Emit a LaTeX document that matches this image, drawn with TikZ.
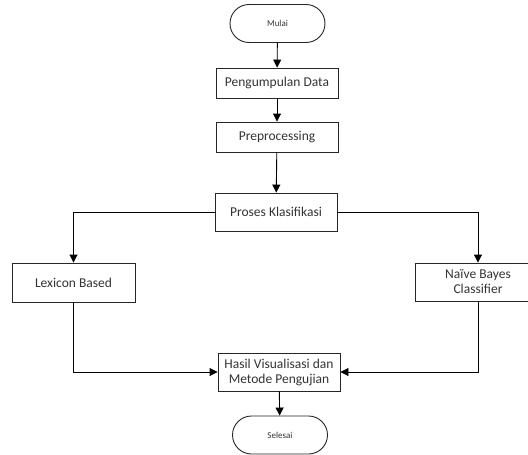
\documentclass[tikz,border=0pt]{standalone}
\usepackage{fontspec}
\setmainfont{Carlito}
\usetikzlibrary{arrows.meta}

\begin{document}
\begin{tikzpicture}[
  x=1pt,y=-1pt,
  font=\fontsize{13.5}{15}\selectfont,
  proc/.style={draw=black!85,line width=0.9pt,align=center,inner sep=2pt,text=black!80},
  term/.style={draw=black!85,line width=0.9pt,rounded corners=19pt,minimum width=95pt,minimum height=38pt,text=black!80,font=\fontsize{9}{11}\selectfont},
  flow/.style={-{Triangle[length=8pt,width=8pt]},line width=0.9pt},
]
\useasboundingbox (0,0) rectangle (528,455);
\clip (0,0) rectangle (528,455);
% terminals
\node[term] (mulai) at (277.5,23.5) {Mulai};
\node[term] (selesai) at (280,435) {Selesai};

% main column
\node[proc,minimum width=122pt,minimum height=30pt] (kumpul) at (277,83) {Pengumpulan Data};
\node[proc,minimum width=122pt,minimum height=30pt] (prep) at (277,137) {Preprocessing};
\node[proc,minimum width=122pt,minimum height=38pt] (klas) at (276,212) {Proses Klasifikasi};

% two methods
\node[proc,minimum width=123pt,minimum height=39pt] (lex) at (73.5,282.5) {Lexicon Based};
\node[proc,minimum width=126pt,minimum height=38pt] (nb) at (478,282) {Naïve Bayes\\Classifier};

\node[proc,minimum width=122pt,minimum height=38pt] (hasil) at (279,372) {Hasil Visualisasi dan\\Metode Pengujian};

% connectors
\draw[flow] (mulai) -- (kumpul);
\draw[flow] (kumpul) -- (prep);
\draw[flow] (prep) -- (klas);
\draw[flow] (klas.west) -| (lex.north);
\draw[flow] (klas.east) -| (nb.north);
\draw[flow] (lex.south) |- (hasil.west);
\draw[flow] (nb.south) |- (hasil.east);
\draw[flow] (hasil) -- (selesai);
\end{tikzpicture}
\end{document}
